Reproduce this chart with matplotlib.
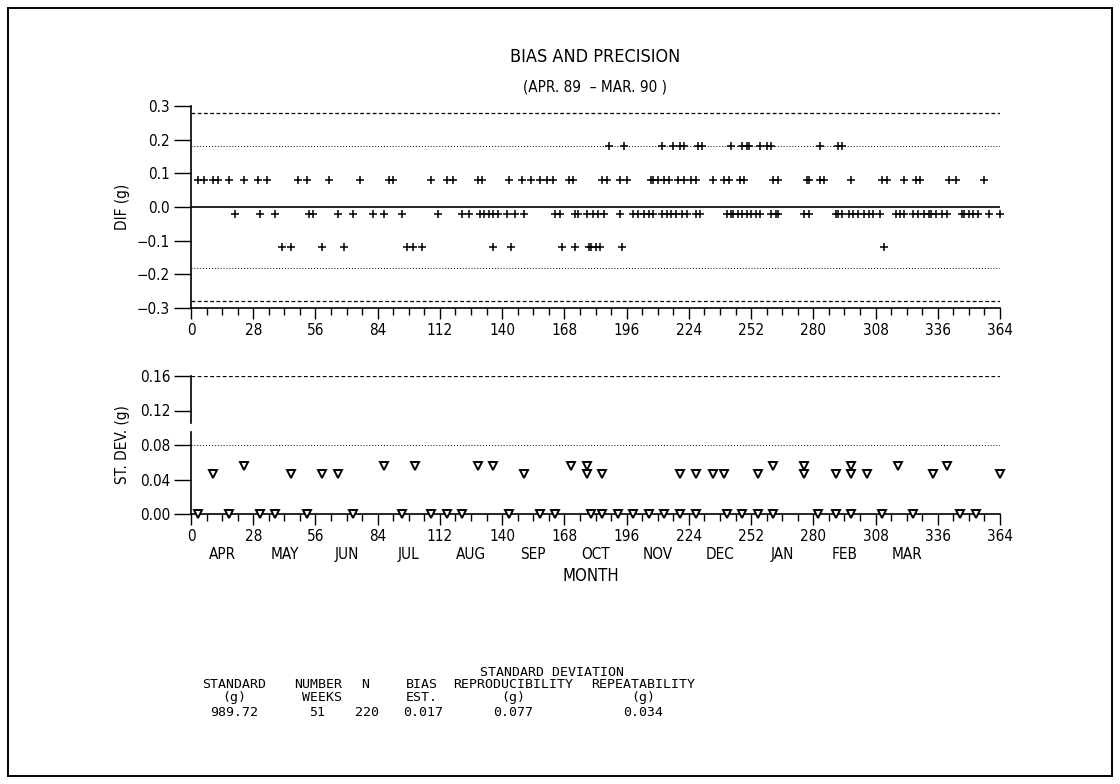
import matplotlib
matplotlib.use("Agg")
import matplotlib.pyplot as plt
from matplotlib.patches import Rectangle
from matplotlib.ticker import FuncFormatter, MultipleLocator
import numpy as np

# Bias and precision chart, Apr. 89 - Mar. 90
# -------------------------------------------------------------------------
# DATA (day of the year -> value)
dif_values = [0.18, 0.08, -0.02, -0.12]
dif_p18 = [188, 195, 212, 217, 220, 222, 228, 230, 243, 248, 250, 251, 256,
           259, 261, 283, 291, 293]
dif_p08 = [3, 6, 10, 12, 17, 24, 30, 34, 48, 52, 62, 76, 89, 91, 108, 115, 118,
           129, 131, 143, 149, 153, 157, 160, 163, 170, 172, 185, 187, 193, 196,
           207, 208, 210, 213, 215, 219, 222, 225, 227, 235, 240, 242, 247, 249,
           262, 264, 277, 278, 283, 285, 297, 311, 313, 321, 326, 328, 341, 344,
           357]
dif_m02 = [20, 31, 38, 53, 55, 66, 73, 82, 87, 95, 111, 122, 125, 130, 132, 134,
           136, 138, 142, 146, 150, 164, 166, 173, 174, 178, 181, 183, 186, 193,
           199, 201, 204, 206, 208, 212, 214, 216, 218, 221, 223, 227, 229, 241,
           243, 244, 246, 248, 250, 252, 254, 256, 261, 263, 264, 276, 278, 290,
           291, 293, 296, 298, 300, 303, 305, 307, 310, 317, 319, 321, 325, 327,
           330, 332, 333, 335, 338, 340, 347, 348, 350, 352, 354, 359, 364]
dif_m12 = [41, 45, 59, 69, 97, 100, 104, 136, 144, 167, 173, 179, 180, 182, 184,
           194, 312]
dif_days = [dif_p18, dif_p08, dif_m02, dif_m12]

sd_values = [0.0, 0.046, 0.056]
sd_zero = [3, 17, 31, 38, 52, 73, 95, 108, 115, 122, 143, 157, 164, 180, 185,
           192, 199, 206, 213, 220, 227, 241, 248, 255, 262, 282, 290, 297, 311,
           325, 346, 353]
sd_low = [10, 45, 59, 66, 150, 178, 185, 220, 227, 235, 240, 255, 276, 290, 297,
          304, 334, 364]
sd_high = [24, 87, 101, 129, 136, 171, 178, 262, 276, 297, 318, 340]
sd_days = [sd_zero, sd_low, sd_high]

dif_limits = [0.18, 0.28]   # dotted, dashed
sd_limits = [0.08, 0.16]

months = ['APR', 'MAY', 'JUN', 'JUL', 'AUG', 'SEP', 'OCT', 'NOV', 'DEC', 'JAN',
          'FEB', 'MAR']

tab_header = ['STANDARD\n(g)', 'NUMBER\n WEEKS', 'N', 'BIAS\nEST.',
              'REPRODUCIBILITY\n(g)', 'REPEATABILITY\n(g)']
tab_values = ['989.72', '51', '220', '0.017', '0.077', '0.034']
# -------------------------------------------------------------------------

W, H = 1120, 784
font = ['DejaVu Sans', 'Liberation Sans']
mono = ['DejaVu Sans Mono']
plt.rcParams['font.family'] = font
plt.rcParams['font.stretch'] = 'condensed'
plt.rcParams['font.size'] = 11

fig = plt.figure(figsize=(W / 100, H / 100), dpi=100)
fig.add_artist(Rectangle((8 / W, 8 / H), 1104 / W, 768 / H, fill=False,
                         lw=1.4, color='k', transform=fig.transFigure))

fig.text(595 / W, 1 - 57 / H, 'BIAS AND PRECISION', ha='center', va='center',
         fontsize=13)
fig.text(595 / W, 1 - 87 / H, '(APR. 89  \u2013 MAR. 90 )', ha='center',
         va='center', fontsize=11)

ax1 = fig.add_axes([191 / W, 1 - 308 / H, 809 / W, 202 / H])
ax2 = fig.add_axes([191 / W, 1 - 514 / H, 809 / W, 138 / H])

minus = lambda fmt: FuncFormatter(lambda v, p: (fmt % v).replace('-', '\u2212'))

for ax in (ax1, ax2):
    ax.set_xlim(0, 364)
    ax.xaxis.set_major_locator(MultipleLocator(28))
    ax.xaxis.set_minor_locator(MultipleLocator(7))
    ax.tick_params(axis='x', which='major', length=8, width=1, direction='out',
                   pad=3)
    ax.tick_params(axis='x', which='minor', length=5, width=1, direction='out')
    ax.tick_params(axis='y', length=12, width=1, direction='out', pad=3)
    for s in ('top', 'right'):
        ax.spines[s].set_visible(False)
    ax.spines['bottom'].set_linewidth(1.2)
    ax.spines['left'].set_linewidth(1.2)

# top panel: differences
ax1.set_ylim(-0.3, 0.3)
ax1.set_yticks(np.arange(-0.3, 0.31, 0.1))
ax1.yaxis.set_major_formatter(minus('%.1f'))
ax1.axhline(0, color='k', lw=1.2)
ax1.axhline(dif_limits[0], color='k', lw=0.7, ls=(0, (1, 2)))
ax1.axhline(-dif_limits[0], color='k', lw=0.7, ls=(0, (1, 2)))
ax1.axhline(dif_limits[1], color='k', lw=0.9, ls=(0, (3, 2)))
ax1.axhline(-dif_limits[1], color='k', lw=0.9, ls=(0, (3, 2)))
for val, days in zip(dif_values, dif_days):
    ax1.plot(days, [val] * len(days), ls='none', marker='+', ms=5.5, mew=1.1,
             color='k', clip_on=False)
ax1.set_ylabel('DIF (g)')
ax1.yaxis.set_label_coords(-0.075, 0.5)

# bottom panel: standard deviations
ax2.set_ylim(0, 0.16)
ax2.set_yticks(np.arange(0, 0.161, 0.04))
ax2.yaxis.set_major_formatter(minus('%.2f'))
ax2.axhline(sd_limits[0], color='k', lw=0.7, ls=(0, (1, 2)))
ax2.axhline(sd_limits[1], color='k', lw=0.9, ls=(0, (3, 2)))
ax2.spines['left'].set_visible(False)
ytr = ax2.get_yaxis_transform()
ax2.plot([0, 0], [0.16, 0.105], color='k', lw=1.2, transform=ytr, clip_on=False)
ax2.plot([0, 0], [0.095, 0.0], color='k', lw=1.2, transform=ytr, clip_on=False)
for val, days in zip(sd_values, sd_days):
    ax2.plot(days, [val] * len(days), ls='none', marker='v', ms=5.5, mew=1.4,
             mfc='white', color='k', clip_on=False, zorder=3)
ax2.set_ylabel('ST. DEV. (g)')
ax2.yaxis.set_label_coords(-0.075, 0.5)

xtr = ax2.get_xaxis_transform()
for i, m in enumerate(months):
    ax2.text(14 + 28 * i, -0.29, m, transform=xtr, ha='center', va='center',
             fontsize=11)
ax2.text(180, -0.45, 'MONTH', transform=xtr, ha='center', va='center',
         fontsize=12)

# summary table
head_x = [234, 318, 365, 438, 513, 643]
head_ha = ['center', 'center', 'center', 'right', 'center', 'center']
val_x = [234, 317, 367, 423, 513, 643]
fig.text(552 / W, 1 - 672 / H, 'STANDARD DEVIATION', ha='center', va='center',
         fontsize=9.5, family=mono)
for hx, ha, vx, h, v in zip(head_x, head_ha, val_x, tab_header, tab_values):
    fig.text(hx / W, 1 - 678 / H, h, ha=ha, va='top', fontsize=9.5,
             family=mono, linespacing=1.0,
             multialignment='right' if ha == 'right' else 'center')
    fig.text(vx / W, 1 - 713 / H, v, ha='center', va='center', fontsize=9.5,
             family=mono)

fig.savefig('out.png', dpi=100)
